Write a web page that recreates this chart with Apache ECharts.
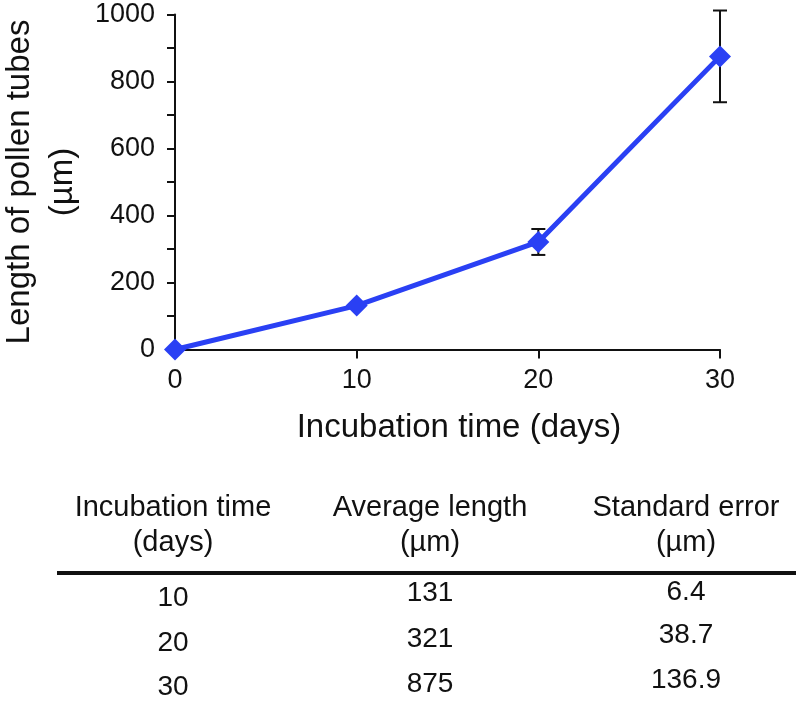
<!DOCTYPE html>
<html>
<head>
<meta charset="utf-8">
<script src="https://cdn.jsdelivr.net/npm/echarts@6/dist/echarts.min.js"></script>
<style>html,body{margin:0;padding:0;background:#fff}#c{width:796px;height:708px}</style>
</head>
<body>
<div id="c"></div>
<script>
// ---- data ----
const days = [0, 10, 20, 30];
const lengths = [0, 131, 321, 875];
const stdErr = [0, 6.4, 38.7, 136.9];
const yTicks = [0, 200, 400, 600, 800, 1000];
const xTicks = [0, 10, 20, 30];
const headerLine1 = ['Incubation time', 'Average length', 'Standard error'];
const headerLine2 = ['(days)', '(\u00b5m)', '(\u00b5m)'];
const tableTime = ['10', '20', '30'];
const tableAvg = ['131', '321', '875'];
const tableSE = ['6.4', '38.7', '136.9'];

const FONT = '"Liberation Sans", Arial, Helvetica, sans-serif';
const chart = echarts.init(document.getElementById('c'), null, {renderer: 'canvas'});

// table as graphic text elements
const colX = [173, 430, 686];
const colRowY = [[598, 643, 687], [593, 639, 684], [592, 635, 680]];
const tableCols = [tableTime, tableAvg, tableSE];
const graphics = [];
for (let c = 0; c < 3; c++) {
  graphics.push({type: 'text', x: colX[c], y: 508, style: {text: headerLine1[c], font: '29px ' + FONT, fill: '#111', textAlign: 'center', textVerticalAlign: 'middle'}});
  graphics.push({type: 'text', x: colX[c], y: 543, style: {text: headerLine2[c], font: '29px ' + FONT, fill: '#111', textAlign: 'center', textVerticalAlign: 'middle'}});
  tableCols[c].forEach((t, r) => {
    graphics.push({type: 'text', x: colX[c], y: colRowY[c][r], style: {text: t, font: '28px ' + FONT, fill: '#111', textAlign: 'center', textVerticalAlign: 'middle'}});
  });
}
graphics.push({type: 'line', shape: {x1: 57, y1: 573, x2: 796, y2: 573}, style: {stroke: '#111', lineWidth: 4}});

const option = {
  animation: false,
  backgroundColor: '#fff',
  textStyle: {fontFamily: FONT},
  grid: {left: 175, right: 76, top: 14.5, bottom: 358.5, containLabel: false, outerBoundsMode: 'none'},
  xAxis: {
    type: 'value', min: 0, max: 30, interval: 10,
    name: 'Incubation time (days)', nameLocation: 'middle', nameGap: 62,
    nameTextStyle: {fontSize: 33, color: '#111', fontFamily: FONT, padding: [0, 0, 0, 23]},
    axisLine: {show: true, lineStyle: {color: '#111', width: 2}},
    axisTick: {show: true, inside: false, length: 9, lineStyle: {color: '#111', width: 2}},
    axisLabel: {fontSize: 27, color: '#111', fontFamily: FONT, margin: 18},
    splitLine: {show: false}
  },
  yAxis: {
    type: 'value', min: 0, max: 1000, interval: 100,
    name: 'Length of pollen tubes\n(\u00b5m)', nameLocation: 'middle', nameGap: 76,
    nameTextStyle: {fontSize: 33, color: '#111', fontFamily: FONT, lineHeight: 43},
    axisLine: {show: true, lineStyle: {color: '#111', width: 2}},
    axisTick: {show: true, inside: false, length: 8, lineStyle: {color: '#111', width: 2}},
    axisLabel: {fontSize: 27, color: '#111', fontFamily: FONT, margin: 20,
      formatter: v => (yTicks.indexOf(v) >= 0 ? String(v) : '')},
    splitLine: {show: false}
  },
  series: [
    {
      type: 'custom',
      clip: false,
      z: 3,
      data: days.map((d, i) => [d, lengths[i], stdErr[i]]),
      renderItem: function (params, api) {
        const x = api.value(0), y = api.value(1), e = api.value(2);
        if (!e) return null;
        const top = api.coord([x, y + e]);
        const bot = api.coord([x, y - e]);
        const hw = 7;
        const st = {stroke: '#111', lineWidth: 2};
        return {type: 'group', children: [
          {type: 'line', shape: {x1: top[0], y1: top[1], x2: bot[0], y2: bot[1]}, style: st},
          {type: 'line', shape: {x1: top[0] - hw, y1: top[1], x2: top[0] + hw, y2: top[1]}, style: st},
          {type: 'line', shape: {x1: bot[0] - hw, y1: bot[1], x2: bot[0] + hw, y2: bot[1]}, style: st}
        ]};
      }
    },
    {
      type: 'line',
      z: 5,
      data: days.map((d, i) => [d, lengths[i]]),
      lineStyle: {color: '#2a40f4', width: 5},
      itemStyle: {color: '#2a40f4'},
      symbol: 'diamond',
      symbolSize: 22,
      clip: false
    }
  ],
  graphic: graphics
};
chart.setOption(option);
</script>
</body>
</html>
